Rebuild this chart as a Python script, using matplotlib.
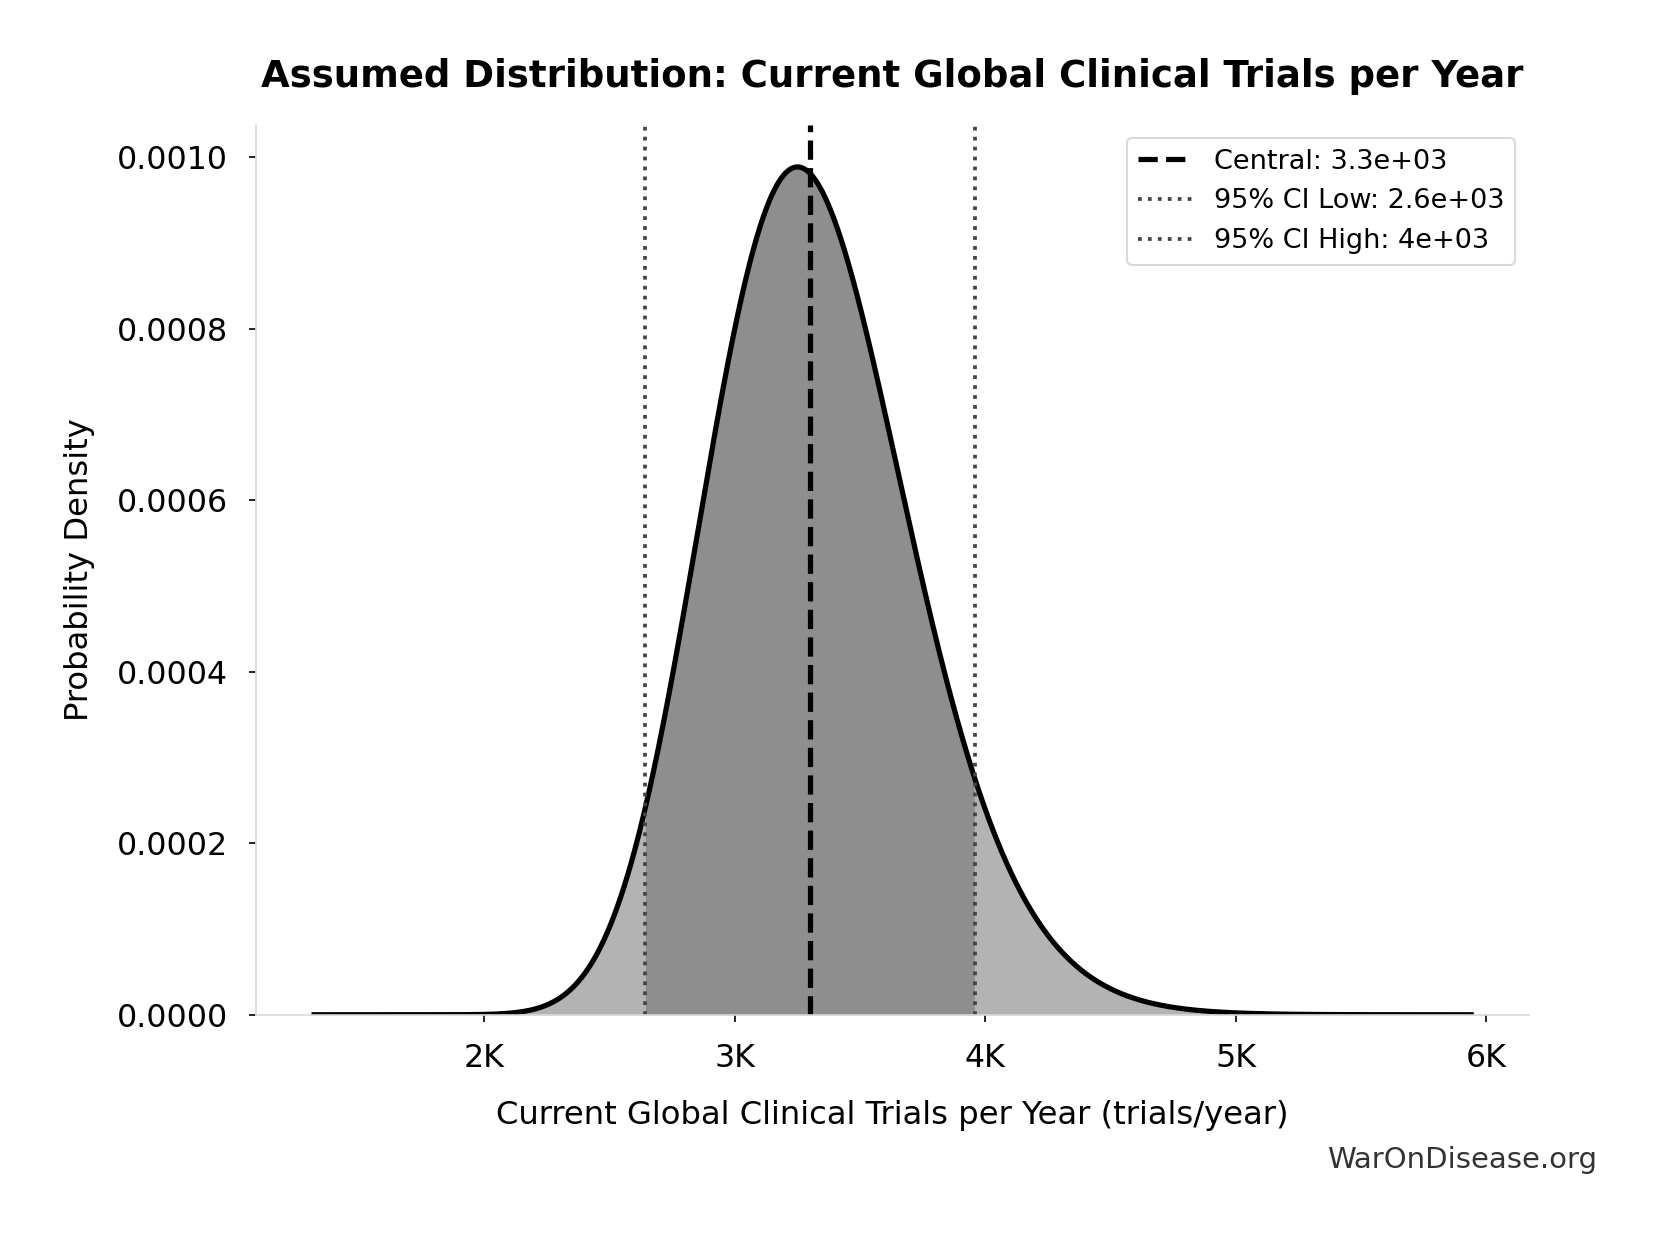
import numpy as np
import matplotlib.pyplot as plt
from matplotlib.ticker import FuncFormatter

# parameters of the assumed distribution (trials/year)
central = 3300
ci_low = 2640
ci_high = 3960
x_lo_factor = 0.4
x_hi_factor = 1.8

# lognormal with median = central, spread from the 95% CI
mu = np.log(central)
sigma = (np.log(ci_high) - np.log(ci_low)) / (2 * 1.645)

x = np.linspace(central * x_lo_factor, central * x_hi_factor, 1000)
pdf = np.exp(-(np.log(x) - mu) ** 2 / (2 * sigma ** 2)) / (x * sigma * np.sqrt(2 * np.pi))

fig, ax = plt.subplots(figsize=(11.02, 8.22), dpi=150)

ax.fill_between(x, pdf, color='#b3b3b3', linewidth=0)
mask = (x >= ci_low) & (x <= ci_high)
ax.fill_between(x[mask], pdf[mask], color='#8e8e8e', linewidth=0)
ax.plot(x, pdf, color='black', linewidth=2.5)

ax.axvline(central, color='black', linestyle='--', linewidth=2.5,
           label=f'Central: {central:.2g}')
ax.axvline(ci_low, color='#444444', linestyle=':', linewidth=1.8,
           label=f'95% CI Low: {ci_low:.2g}')
ax.axvline(ci_high, color='#444444', linestyle=':', linewidth=1.8,
           label=f'95% CI High: {ci_high:.2g}')

ax.set_ylim(bottom=0)
ax.xaxis.set_major_formatter(FuncFormatter(lambda v, p: f'{v/1000:.0f}K'))

ax.spines['top'].set_visible(False)
ax.spines['right'].set_visible(False)
ax.spines['left'].set_color('#d9d9d9')
ax.spines['bottom'].set_color('#d9d9d9')
ax.tick_params(labelsize=15.2, pad=10)

ax.set_title('Assumed Distribution: Current Global Clinical Trials per Year',
             fontsize=17.8, fontweight='bold', pad=18)
ax.set_xlabel('Current Global Clinical Trials per Year (trials/year)', fontsize=15.5, labelpad=12.5)
ax.set_ylabel('Probability Density', fontsize=15.5, labelpad=10.5)

leg = ax.legend(loc='upper right', fontsize=13, framealpha=1, edgecolor='#d9d9d9')

fig.text(0.966, 0.053, 'WarOnDisease.org', fontsize=14, color='#333333', ha='right')

plt.subplots_adjust(left=0.155, right=0.925, top=0.899, bottom=0.177)
plt.savefig('out.png', dpi=150)
